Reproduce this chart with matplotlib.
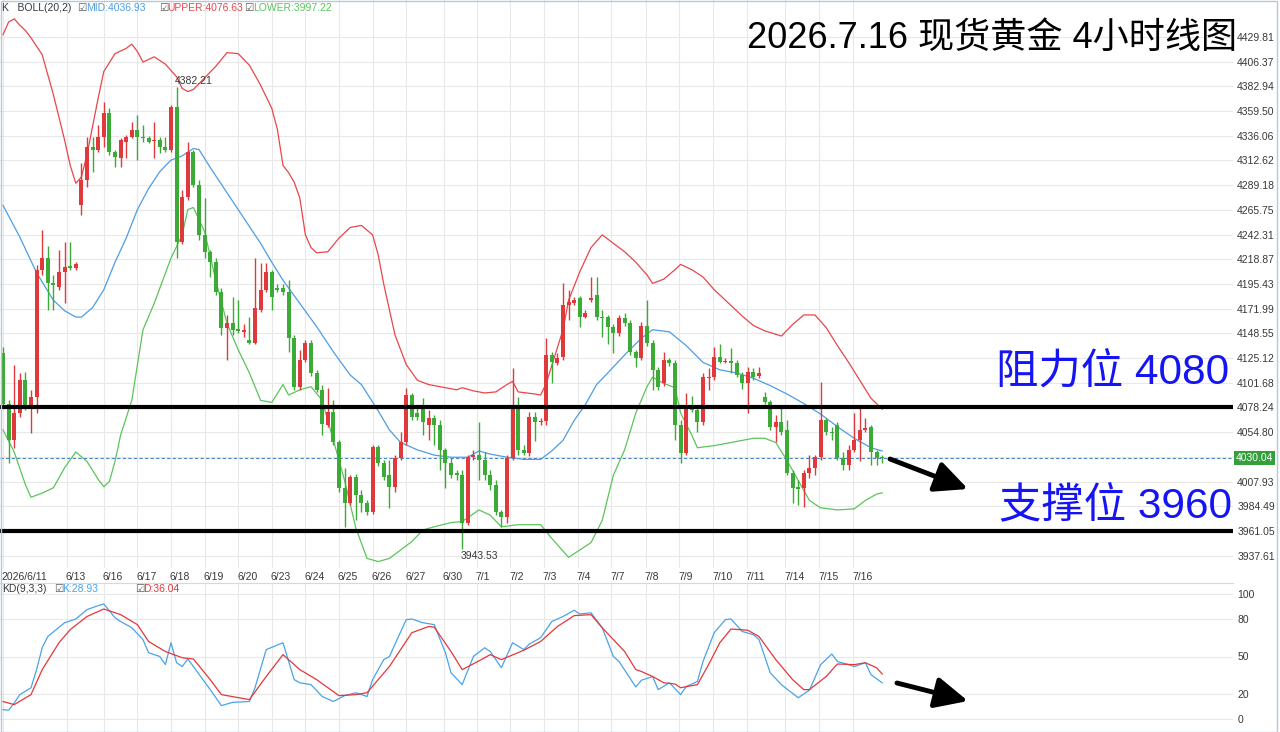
import numpy as np
import matplotlib
matplotlib.use('Agg')
import matplotlib.pyplot as plt
from matplotlib.transforms import blended_transform_factory
from matplotlib.patches import Rectangle, FancyArrowPatch

plt.rcParams['font.family'] = ['Liberation Sans', 'Noto Sans CJK SC', 'DejaVu Sans']

# 4小时K线 (开, 高, 低, 收)
opens = [4130, 4082, 4047, 4073, 4104, 4079, 4088, 4209, 4220, 4196, 4193, 4207, 4212, 4211,
         4270, 4294, 4325, 4323, 4335, 4358, 4321, 4315, 4330, 4335, 4342, 4335, 4334, 4331,
         4332, 4325, 4323, 4363, 4235, 4278, 4321, 4289, 4242, 4226, 4216, 4188, 4154, 4158,
         4152, 4150, 4142, 4139, 4171, 4190, 4207, 4192, 4192, 4188, 4144, 4098, 4123, 4139,
         4111, 4095, 4062, 4074, 4045, 4002, 3988, 4012, 3995, 3988, 3979, 4041, 4026, 4014,
         4003, 4030, 4045, 4090, 4073, 4081, 4062, 4068, 4062, 4038, 4026, 4016, 4014, 3969,
         4031, 4033, 4028, 4014, 4005, 3979, 3974, 4030, 4081, 4038, 4035, 4069, 4064, 4065,
         4128, 4120, 4126, 4175, 4177, 4182, 4164, 4180, 4185, 4164, 4164, 4155, 4149, 4163,
         4158, 4131, 4125, 4156, 4139, 4114, 4101, 4123, 4120, 4062, 4035, 4078, 4076, 4064,
         4106, 4107, 4126, 4121, 4122, 4120, 4109, 4101, 4112, 4108, 4088, 4083, 4060, 4064,
         4057, 4016, 4002, 4002, 4016, 4021, 4031, 4066, 4055, 4062, 4030, 4024, 4038, 4047,
         4057, 4060, 4036, 4031]
highs = [4136, 4085, 4119, 4111, 4112, 4095, 4213, 4247, 4231, 4204, 4228, 4235, 4235, 4216,
         4310, 4335, 4335, 4346, 4368, 4362, 4323, 4334, 4337, 4349, 4356, 4346, 4336, 4349,
         4335, 4335, 4365, 4382.21, 4285, 4330, 4323, 4294, 4277, 4228, 4220, 4192, 4166, 4183,
         4180, 4157, 4164, 4220, 4215, 4215, 4209, 4195, 4195, 4199, 4147, 4133, 4142, 4142,
         4114, 4100, 4097, 4085, 4047, 4021, 4014, 4015, 4000, 3990, 4043, 4043, 4028, 4028,
         4033, 4055, 4097, 4092, 4081, 4087, 4076, 4071, 4066, 4040, 4030, 4019, 4019, 4033,
         4038, 4064, 4036, 4019, 4009, 3981, 4033, 4116, 4088, 4043, 4074, 4074, 4068, 4144,
         4131, 4130, 4196, 4190, 4183, 4184, 4171, 4202, 4202, 4171, 4166, 4157, 4166, 4168,
         4161, 4133, 4159, 4180, 4142, 4117, 4131, 4125, 4123, 4066, 4092, 4089, 4081, 4111,
         4116, 4136, 4138, 4125, 4135, 4123, 4112, 4117, 4116, 4117, 4093, 4085, 4071, 4078,
         4066, 4019, 4009, 4019, 4033, 4033, 4102, 4068, 4060, 4064, 4036, 4043, 4073, 4081,
         4068, 4062, 4038, 4033]
lows = [4080, 4026, 4040, 4069, 4076, 4054, 4073, 4204, 4171, 4171, 4190, 4177, 4209, 4209,
        4261, 4287, 4302, 4321, 4325, 4318, 4306, 4306, 4315, 4334, 4313, 4330, 4329, 4315,
        4320, 4321, 4321, 4220, 4233, 4275, 4287, 4237, 4220, 4202, 4185, 4147, 4123, 4147,
        4149, 4145, 4138, 4138, 4169, 4188, 4171, 4188, 4185, 4131, 4095, 4095, 4121, 4108,
        4093, 4052, 4060, 4043, 3998, 3965, 3986, 3971, 3979, 3976, 3977, 4023, 4009, 3983,
        3998, 4028, 4043, 4066, 4066, 4052, 4047, 4043, 4019, 4002, 4011, 4009, 3943.53, 3967,
        4028, 4009, 4009, 4000, 3976, 3965, 3969, 4028, 4033, 4033, 4032, 4046, 4062, 4062,
        4101, 4119, 4123, 4161, 4175, 4155, 4163, 4178, 4161, 4145, 4138, 4130, 4146, 4156,
        4128, 4117, 4123, 4137, 4095, 4095, 4099, 4118, 4047, 4026, 4033, 4074, 4055, 4062,
        4095, 4104, 4120, 4120, 4111, 4107, 4096, 4073, 4104, 4106, 4082, 4057, 4045, 4052,
        4014, 3988, 3986, 3984, 4011, 4014, 4028, 4052, 4047, 4028, 4019, 4019, 4036, 4027,
        4055, 4024, 4024, 4026]
closes = [4082, 4047, 4073, 4104, 4079, 4088, 4209, 4220, 4196, 4194, 4207, 4212, 4211, 4214,
          4294, 4325, 4323, 4335, 4358, 4321, 4316, 4332, 4335, 4342, 4335, 4334, 4330, 4332,
          4325, 4323, 4363, 4235, 4278, 4321, 4289, 4242, 4226, 4216, 4188, 4154, 4158, 4152,
          4151, 4152, 4139, 4173, 4190, 4207, 4183, 4190, 4188, 4144, 4098, 4123, 4139, 4111,
          4095, 4063, 4074, 4045, 4002, 3988, 4012, 3995, 3988, 3979, 4041, 4026, 4012, 4003,
          4030, 4045, 4090, 4069, 4069, 4064, 4068, 4062, 4038, 4026, 4014, 4014, 3969, 4031,
          4033, 4028, 4014, 4005, 3979, 3974, 4030, 4081, 4038, 4035, 4069, 4064, 4065, 4128,
          4121, 4125, 4175, 4178, 4180, 4164, 4168, 4182, 4164, 4163, 4155, 4149, 4163, 4158,
          4131, 4125, 4156, 4139, 4114, 4098, 4123, 4120, 4062, 4035, 4081, 4076, 4064, 4107,
          4107, 4126, 4121, 4122, 4120, 4109, 4101, 4112, 4107, 4111, 4083, 4060, 4064, 4055,
          4016, 4002, 4001, 4016, 4021, 4031, 4066, 4055, 4054, 4030, 4024, 4038, 4047, 4057,
          4058, 4036, 4030, 4030.04]

# BOLL(20,2) 读图取点 (K线序号, 价格)
upper_idx = [0, 1, 2, 3, 4, 5, 7, 9, 11, 12, 13, 14, 15, 17, 18, 20, 22, 23, 24, 25, 27, 29, 31,
             32, 33, 34, 36, 38, 40, 42, 44, 46, 48, 49, 50, 51, 52, 53, 54, 55, 56, 58, 60, 62,
             64, 66, 67, 68, 69, 70, 72, 74, 76, 79, 81, 82, 84, 86, 88, 90, 91, 92, 95, 96, 97,
             98, 99, 100, 101, 103, 105, 107, 109, 111, 113, 115, 116, 118, 120, 121, 123, 125,
             127, 130, 132, 134, 136, 139, 141, 143, 145, 147, 149, 151, 153, 155, 157]
upper_val = [4432, 4444, 4447, 4441, 4436, 4429, 4413, 4375, 4332, 4308, 4291, 4297, 4318, 4372,
             4397, 4414, 4419, 4423, 4416, 4406, 4411, 4404, 4392, 4381, 4378, 4380, 4391, 4402,
             4415, 4414, 4403, 4384, 4362, 4342, 4308, 4301, 4292, 4277, 4242, 4230, 4225, 4226,
             4239, 4249, 4251, 4242, 4223, 4195, 4171, 4147, 4119, 4104, 4100, 4097, 4095, 4097,
             4094, 4092, 4093, 4100, 4103, 4093, 4091, 4090, 4101, 4118, 4135, 4152, 4180, 4207,
             4230, 4242, 4234, 4226, 4216, 4204, 4196, 4200, 4209, 4214, 4209, 4202, 4190, 4175,
             4165, 4156, 4151, 4146, 4157, 4166, 4166, 4154, 4137, 4121, 4104, 4087, 4076.63]
mid_idx = [0, 3, 6, 9, 11, 13, 14, 16, 18, 20, 22, 24, 26, 28, 30, 32, 34, 35, 37, 40, 43, 46,
           48, 50, 53, 56, 59, 62, 64, 67, 69, 71, 74, 77, 80, 83, 85, 87, 90, 93, 96, 98, 100,
           102, 104, 106, 108, 111, 114, 116, 119, 122, 125, 128, 131, 134, 137, 140, 143, 146,
           149, 152, 155, 157]
mid_val = [4270, 4240, 4206, 4180, 4170, 4164, 4164, 4173, 4190, 4216, 4239, 4266, 4286, 4302,
           4313, 4317, 4324, 4323, 4306, 4282, 4258, 4234, 4216, 4199, 4177, 4155, 4131, 4109,
           4100, 4075, 4057, 4045, 4038, 4033, 4031, 4031, 4037, 4034, 4031, 4029, 4029, 4037,
           4047, 4066, 4081, 4100, 4111, 4128, 4144, 4152, 4150, 4137, 4121, 4114, 4111, 4106,
           4099, 4091, 4082, 4072, 4060, 4049, 4040, 4036.93]
lower_idx = [0, 2, 4, 5, 7, 9, 11, 13, 15, 17, 18, 19, 20, 21, 23, 25, 27, 30, 32, 33, 34, 36,
             38, 40, 42, 44, 46, 48, 50, 51, 53, 55, 57, 59, 61, 63, 65, 67, 69, 71, 73, 75, 77,
             80, 82, 85, 87, 89, 92, 96, 98, 101, 103, 105, 107, 109, 111, 113, 115, 116, 118,
             120, 121, 123, 124, 127, 130, 134, 136, 138, 140, 142, 144, 146, 149, 152, 154, 156,
             157]
lower_val = [4057, 4036, 4005, 3993, 3997, 4002, 4021, 4036, 4027, 4010, 4003, 4008, 4027, 4052,
             4085, 4152, 4177, 4220, 4242, 4266, 4268, 4245, 4199, 4158, 4133, 4111, 4085, 4083,
             4100, 4090, 4095, 4098, 4085, 4047, 4009, 3964, 3935, 3932, 3935, 3943, 3951, 3962,
             3965, 3969, 3970, 3981, 3976, 3965, 3967, 3967, 3954, 3936, 3943, 3950, 3971, 4014,
             4038, 4073, 4098, 4107, 4101, 4097, 4073, 4052, 4040, 4042, 4045, 4049, 4049, 4045,
             4028, 4009, 3990, 3983, 3981, 3982, 3990, 3996, 3997.22]

# KD(9,3,3)
k_idx = [0, 1, 2, 3, 5, 6, 7, 8, 11, 13, 15, 17, 18, 20, 21, 23, 25, 26, 28, 29, 30, 31, 32, 33,
         34, 37, 39, 41, 44, 45, 47, 50, 52, 53, 55, 57, 59, 61, 63, 65, 66, 68, 69, 72, 73, 75,
         77, 79, 80, 82, 84, 86, 87, 89, 91, 93, 94, 96, 98, 100, 102, 103, 105, 107, 109, 110,
         113, 114, 116, 117, 119, 121, 122, 124, 125, 127, 129, 130, 132, 134, 135, 137, 139,
         142, 144, 146, 148, 149, 151, 152, 154, 155, 157]
k_val = [7.5, 7, 12.8, 19.5, 25, 39.5, 57, 66, 77, 80, 87.5, 90.7, 92, 81, 78, 73, 63.5, 53, 50,
         43.5, 61, 45, 42, 48, 42, 23.5, 10.7, 13.3, 14, 25, 55.5, 61, 31.5, 29, 27.5, 18, 14,
         18.7, 21, 18, 31.5, 47.5, 50, 79.5, 80, 77, 75.5, 53, 37, 27.5, 50, 57, 54, 41, 61,
         55.5, 60, 65, 78, 82, 87, 84, 85, 73, 50, 46, 25.6, 31, 34, 23.5, 29, 19.5, 26, 30, 46,
         69, 79.5, 80, 70, 67.5, 63.5, 37, 27.5, 17, 23, 43.5, 52, 46, 43.5, 42, 45, 35.5, 28.93]
d_idx = [0, 2, 5, 7, 10, 12, 15, 18, 21, 24, 26, 29, 32, 34, 37, 39, 44, 47, 50, 53, 56, 60, 63,
         65, 69, 73, 76, 77, 80, 82, 85, 87, 89, 93, 96, 99, 102, 105, 107, 111, 113, 114, 116,
         118, 120, 121, 124, 126, 128, 130, 133, 135, 138, 141, 143, 144, 147, 149, 152, 154,
         156, 157]
d_val = [14, 11.5, 19.5, 39.5, 61, 71.5, 82, 88, 83.5, 75.5, 62, 54, 49, 48, 31.5, 19.5, 15.5,
         34, 51.5, 39.5, 31.5, 18.7, 19.5, 21, 42, 69, 74, 73.5, 54, 39.5, 46.5, 51.5, 47.5, 55,
         62, 74, 82.7, 83.5, 73, 54, 39.5, 38, 34, 29, 28, 25, 27.5, 43.5, 61, 72, 71, 66, 47.5,
         31.5, 23.5, 23.5, 34, 44, 43.5, 45, 41, 36.04]

date_labels = ['2026/6/11', '6/13', '6/16', '6/17', '6/18', '6/19', '6/20', '6/23', '6/24',
               '6/25', '6/26', '6/27', '6/30', '7/1', '7/2', '7/3', '7/4', '7/7', '7/8', '7/9',
               '7/10', '7/11', '7/14', '7/15', '7/16']
date_pos = [0, 11.4, 18, 24, 30, 36, 42, 48, 54, 60, 66, 72, 78.7, 84.6, 90.6, 96.6, 102.6,
            108.6, 114.8, 120.8, 126.8, 132.8, 139.7, 145.8, 151.8]
price_ticks = [4429.81, 4406.37, 4382.94, 4359.50, 4336.06, 4312.62, 4289.18, 4265.75, 4242.31,
               4218.87, 4195.43, 4171.99, 4148.55, 4125.12, 4101.68, 4078.24, 4054.80, 4031.36,
               4007.93, 3984.49, 3961.05, 3937.61]
kd_ticks = [0, 20, 50, 80, 100]
last_price = 4030.04
resist, support = 4078.24, 3961.05

RED, GREEN = '#e0393c', '#3caa36'
C_UP, C_MID, C_LOW = '#e8464a', '#4e9de2', '#5cc45c'
C_K, C_D = '#4aa3ea', '#e3373b'
GRID = '#e8e8e8'
TXT = '#383838'

W, H = 1280, 732
PW = 1233           # 绘图区宽度(像素)
DX, X0 = 5.6, 3.0
xlim = (-X0 / DX, (PW - X0) / DX)

fig = plt.figure(figsize=(12.8, 7.32), dpi=100)
fig.patch.set_facecolor('white')

# ---------------- 主图 ----------------
ax = fig.add_axes([0, 1 - 568 / H, PW / W, 568 / H])
ax.set_xlim(xlim)
ax.set_ylim(3925.9, 4464.9)
ax.set_facecolor('white')
for s in ax.spines.values():
    s.set_visible(False)
ax.set_xticks(date_pos)
ax.set_yticks(price_ticks)
ax.grid(True, color=GRID, lw=0.8)
ax.set_axisbelow(True)
ax.tick_params(length=0, labelbottom=False, labelleft=False)
ax.yaxis.tick_right()
ax.set_yticklabels(['' if abs(v - 4031.36) < 0.01 else f'{v:.2f}' for v in price_ticks])
ax.tick_params(axis='y', labelright=True, pad=3, labelsize=7.5, labelcolor=TXT)

o, hi, lo, c = map(np.array, (opens, highs, lows, closes))
idx = np.arange(len(o))
cols = np.where(c >= o, RED, GREEN)
ax.vlines(idx, lo, hi, colors=cols, lw=1.0, zorder=3)
body = np.maximum(np.abs(c - o), 1.3)
ax.bar(idx, body, bottom=np.minimum(o, c), width=0.72, color=cols, lw=0, zorder=4)

ax.plot(upper_idx, upper_val, color=C_UP, lw=0.9, zorder=2)
ax.plot(mid_idx, mid_val, color=C_MID, lw=0.9, zorder=2)
ax.plot(lower_idx, lower_val, color=C_LOW, lw=0.9, zorder=2)

ax.axhline(last_price, color='#4a86c8', lw=0.8, ls=(0, (3, 2)), zorder=1)
ax.axhline(resist, color='black', lw=3, zorder=5)
ax.axhline(support, color='black', lw=3, zorder=5)

hi_i = int(np.argmax(hi))
lo_i = int(np.argmin(lo))
ax.text(hi_i - 0.3, hi[hi_i] + 1.5, f'{hi[hi_i]:.2f}', fontsize=7.5, color=TXT,
        ha='left', va='bottom', zorder=6)
ax.text(lo_i - 0.3, lo[lo_i] - 1.5, f'{lo[lo_i]:.2f}', fontsize=7.5, color=TXT,
        ha='left', va='top', zorder=6)

tr = blended_transform_factory(ax.transAxes, ax.transData)
ax.text(1 + 3 / PW, last_price, f'{last_price:.2f}', transform=tr, fontsize=7.5,
        color='white', ha='left', va='center',
        bbox=dict(boxstyle='square,pad=0.2', fc='#34a03c', ec='none'), zorder=7)

# 日期标签
xtr = ax.get_xaxis_transform()
for p, lab in zip(date_pos, date_labels):
    ax.text(p - 0.2, -9 / 568, lab, transform=xtr, fontsize=7.5, color=TXT,
            ha='left', va='center', clip_on=False)

# ---------------- KD 副图 ----------------
ak = fig.add_axes([0, 0, PW / W, 149 / H])
ak.set_xlim(xlim)
ak.set_ylim(-10.4, 108.8)
for s in ak.spines.values():
    s.set_visible(False)
ak.spines['top'].set_visible(True)
ak.spines['top'].set_color('#d8d8d8')
ak.set_xticks(date_pos)
ak.set_yticks(kd_ticks)
ak.grid(True, color=GRID, lw=0.8)
ak.set_axisbelow(True)
ak.tick_params(length=0, labelbottom=False, labelleft=False)
ak.yaxis.tick_right()
ak.tick_params(axis='y', labelright=True, pad=3, labelsize=7.5, labelcolor=TXT)
ak.plot(k_idx, k_val, color=C_K, lw=0.9)
ak.plot(d_idx, d_val, color=C_D, lw=0.9)

# ---------------- 文字 ----------------
def ftxt(x, y, s, **kw):
    fig.text(x / W, 1 - y / H, s, **kw)

ftxt(2, 8, 'K   BOLL(20,2)', fontsize=7.5, color=TXT, va='center')
ftxt(77, 8, '\u2611', fontsize=7.5, color='#555555', va='center', family='DejaVu Sans')
ftxt(86, 8, f'MID:{mid_val[-1]:.2f}', fontsize=7.5, color=C_MID, va='center')
ftxt(159, 8, '\u2611', fontsize=7.5, color='#555555', va='center', family='DejaVu Sans')
ftxt(167, 8, f'UPPER:{upper_val[-1]:.2f}', fontsize=7.5, color=C_UP, va='center')
ftxt(244, 8, '\u2611', fontsize=7.5, color='#555555', va='center', family='DejaVu Sans')
ftxt(253, 8, f'LOWER:{lower_val[-1]:.2f}', fontsize=7.5, color=C_LOW, va='center')

ftxt(2, 589, 'KD(9,3,3)', fontsize=7.5, color=TXT, va='center')
ftxt(54, 589, '\u2611', fontsize=7.5, color='#555555', va='center', family='DejaVu Sans')
ftxt(62, 589, f'K:{k_val[-1]:.2f}', fontsize=7.5, color=C_K, va='center')
ftxt(135, 589, '\u2611', fontsize=7.5, color='#555555', va='center', family='DejaVu Sans')
ftxt(143, 589, f'D:{d_val[-1]:.2f}', fontsize=7.5, color=C_D, va='center')

ftxt(1237, 38, '2026.7.16 现货黄金 4小时线图', fontsize=26, color='black',
     ha='right', va='center')
ftxt(1229, 373, '阻力位 4080', fontsize=30.5, color='#1414f5', ha='right', va='center')
ftxt(1232, 506, '支撑位 3960', fontsize=30.5, color='#1414f5', ha='right', va='center')

# 箭头 (画在整张图上, 不受坐标轴裁剪)
for (xa, ya, xb, yb) in [(890, 459, 968, 489), (897, 683, 968, 701)]:
    arr = FancyArrowPatch((xa / W, 1 - ya / H), (xb / W, 1 - yb / H),
                          transform=fig.transFigure,
                          arrowstyle='-|>,head_length=0.95,head_width=0.45',
                          mutation_scale=21, lw=3.5, color='black',
                          shrinkA=0, shrinkB=0, zorder=10)
    fig.add_artist(arr)

fig.patches.append(Rectangle((0.5 / W, 0.5 / H), 1276 / W, 731 / H, transform=fig.transFigure,
                             fill=False, ec='#b8c8da', lw=1))

fig.savefig('out.png', dpi=100)
